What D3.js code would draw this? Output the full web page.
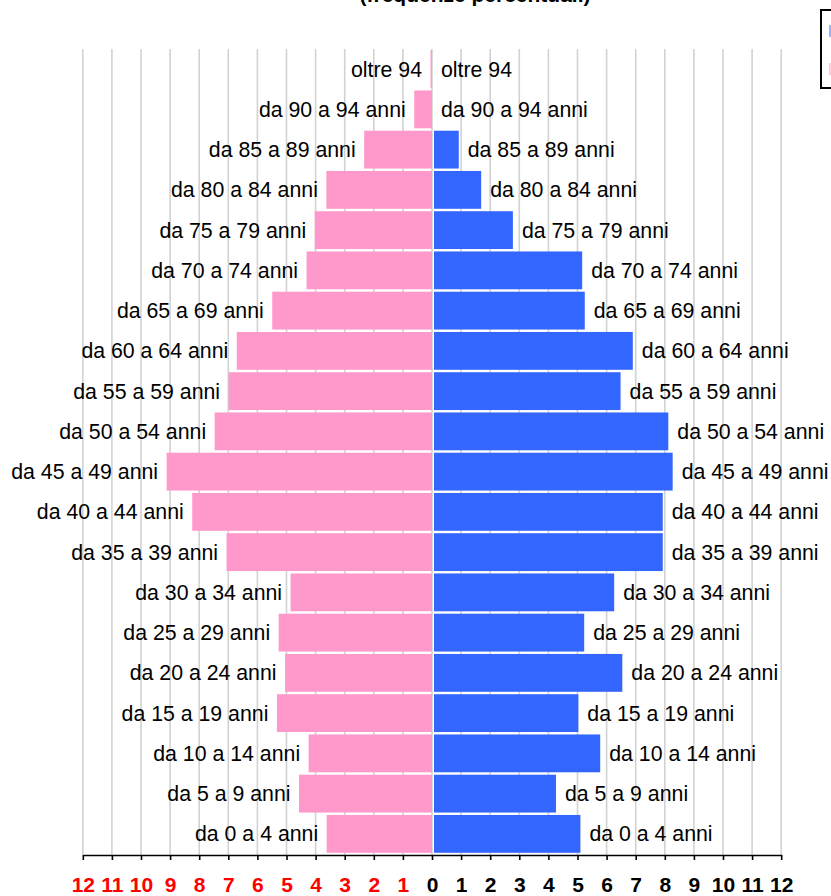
<!DOCTYPE html>
<html>
<head>
<meta charset="utf-8">
<script src="https://cdn.jsdelivr.net/npm/d3@7"></script>
<style>
  html, body { margin: 0; padding: 0; background: #fff; overflow: hidden; }
  svg { display: block; }
</style>
</head>
<body>
<svg id="chart" width="831" height="896"></svg>
<script>
// ---- data ----
const titleText = "(frequenze percentuali)";
const categories = [
  "oltre 94", "da 90 a 94 anni", "da 85 a 89 anni", "da 80 a 84 anni",
  "da 75 a 79 anni", "da 70 a 74 anni", "da 65 a 69 anni", "da 60 a 64 anni",
  "da 55 a 59 anni", "da 50 a 54 anni", "da 45 a 49 anni", "da 40 a 44 anni",
  "da 35 a 39 anni", "da 30 a 34 anni", "da 25 a 29 anni", "da 20 a 24 anni",
  "da 15 a 19 anni", "da 10 a 14 anni", "da 5 a 9 anni", "da 0 a 4 anni"
];
const femmine = [0.05, 0.61, 2.33, 3.63, 4.03, 4.31, 5.49, 6.71, 6.99, 7.47,
                 9.12, 8.24, 7.06, 4.86, 5.27, 5.05, 5.33, 4.24, 4.57, 3.62];
const maschi  = [0, 0, 0.92, 1.69, 2.78, 5.16, 5.25, 6.90, 6.48, 8.12,
                 8.27, 7.93, 7.93, 6.26, 5.23, 6.54, 5.03, 5.78, 4.26, 5.10];
const tickValues = [-12,-11,-10,-9,-8,-7,-6,-5,-4,-3,-2,-1,0,1,2,3,4,5,6,7,8,9,10,11,12];

// ---- styles ----
const colM = "#3366ff", colF = "#ff99cc";
const font = "'Liberation Sans', Arial, Helvetica, sans-serif";

const svg = d3.select("#chart");
const x = d3.scaleLinear().domain([-12, 12]).range([82.8, 781.2]);
const y = d3.scaleBand().domain(categories).range([49, 854]).paddingInner(0.06).paddingOuter(0.03);
const axisY = 855;

// gridlines
svg.append("g").selectAll("line").data(tickValues).join("line")
  .attr("x1", d => x(d)).attr("x2", d => x(d))
  .attr("y1", 49).attr("y2", axisY)
  .attr("stroke", "#d2d2d2").attr("stroke-width", 1.6);

const rows = categories.map((c, i) => ({c, f: femmine[i], m: maschi[i]}));

// female bars (left)
svg.append("g").selectAll("rect").data(rows.filter(d => d.f > 0)).join("rect")
  .attr("x", d => x(-d.f)).attr("width", d => x(0) - x(-d.f))
  .attr("y", d => y(d.c)).attr("height", y.bandwidth())
  .attr("fill", colF);

// male bars (right)
svg.append("g").selectAll("rect").data(rows.filter(d => d.m > 0)).join("rect")
  .attr("x", x(0) + 2).attr("width", d => x(d.m) - x(0) - 2)
  .attr("y", d => y(d.c)).attr("height", y.bandwidth())
  .attr("fill", colM);

// labels
const lab = svg.append("g").attr("font-family", font).attr("font-size", 21.3).attr("fill", "#000");
lab.selectAll("text.l").data(rows).join("text").attr("class", "l")
  .attr("x", d => x(-d.f) - 8.5)
  .attr("y", d => y(d.c) + y.bandwidth() / 2)
  .attr("dy", "0.35em").attr("text-anchor", "end")
  .text(d => d.c);
lab.selectAll("text.r").data(rows).join("text").attr("class", "r")
  .attr("x", d => x(d.m) + 9)
  .attr("y", d => y(d.c) + y.bandwidth() / 2)
  .attr("dy", "0.35em").attr("text-anchor", "start")
  .text(d => d.c);

// axis
const axis = d3.axisBottom(x).tickValues(tickValues)
  .tickFormat(d => Math.abs(d)).tickSize(5).tickSizeOuter(0).tickPadding(17.5);
const gAxis = svg.append("g").attr("transform", `translate(0,${axisY})`).call(axis);
gAxis.select(".domain").attr("stroke", "#000").attr("stroke-width", 1.6);
gAxis.selectAll(".tick line").attr("stroke", "#000").attr("stroke-width", 1.6);
gAxis.selectAll(".tick text")
  .attr("font-family", font).attr("font-size", 21).attr("font-weight", "bold")
  .attr("fill", d => d < 0 ? "#ff0000" : "#000");

// title (partially cut off at the top, as in the reference)
svg.append("text").attr("x", 475).attr("y", 1.5)
  .attr("text-anchor", "middle").attr("font-family", font)
  .attr("font-size", 21).attr("font-weight", "bold").text(titleText);

// legend box (mostly outside the visible area)
const lg = svg.append("g");
lg.append("rect").attr("x", 821).attr("y", 10).attr("width", 120).attr("height", 78)
  .attr("fill", "#fff").attr("stroke", "#000").attr("stroke-width", 2);
[colM, colF].forEach((c, i) => {
  lg.append("rect").attr("x", 829).attr("y", 25 + i * 38).attr("width", 12).attr("height", 12)
    .attr("fill", c).attr("opacity", 0.5);
});
</script>
</body>
</html>
